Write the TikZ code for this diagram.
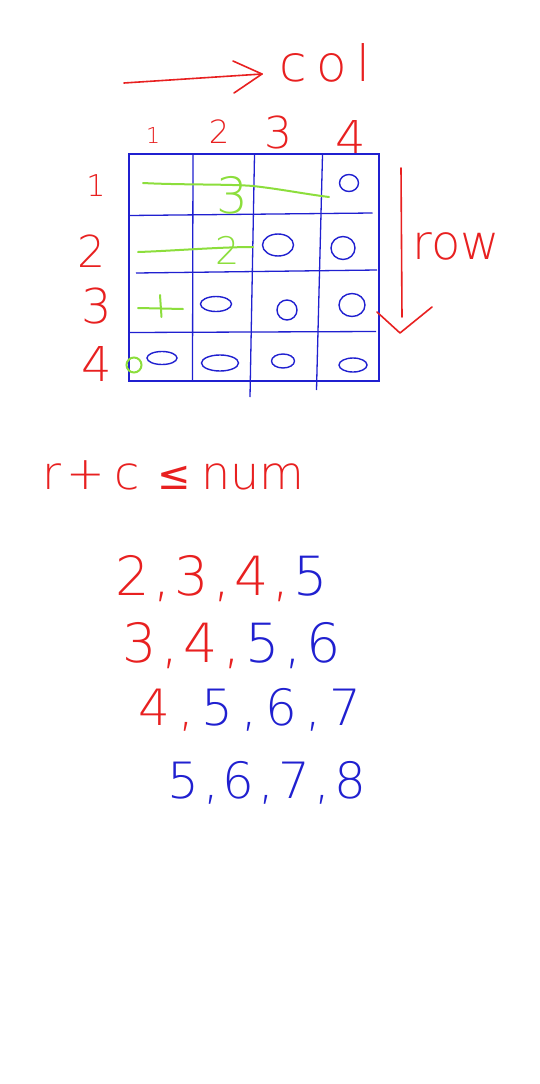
\documentclass[tikz,border=0pt]{standalone}
\usepackage{fontspec}
\newfontfamily\hand{DejaVu Sans ExtraLight}
\newfontfamily\dvs{DejaVu Sans}
\usetikzlibrary{shapes.geometric}
\definecolor{pr}{RGB}{232,32,32}
\definecolor{pb}{RGB}{32,32,208}
\definecolor{pg}{RGB}{140,222,60}
\newcommand\fsz[1]{\fontsize{#1}{#1}\selectfont}
\newcommand\cma[1][4pt]{\hspace{#1},\hspace{#1}}
\begin{document}
\begin{tikzpicture}[x=1pt,y=-1pt,
  txt/.style={inner sep=0pt, font=\hand},
  gridln/.style={pb, line width=1.3pt},
  pen/.style={pr, line width=1.6pt, line cap=round, line join=round},
  gpen/.style={pg, line width=2pt, line cap=round, line join=round},
  ov/.style={ellipse, draw=pb, line width=1.4pt, inner sep=0pt}]
\useasboundingbox[fill=white] (0,0) rectangle (540,1084);

% col arrow
\coordinate (ca0) at (124,83);
\coordinate (ct) at (262,74);
\coordinate (ca1) at (233,61);
\coordinate (ca2) at (234,93);
\draw[pen] (ca0) -- (ct);
\draw[pen] (ca1) -- (ct) -- (ca2);
\node[txt, text=pr, font=\hand\fsz{50}] (col) at (325,63) {c\hspace{9pt}o\hspace{10pt}l};

% column numbers
\node[txt, text=pr, font=\hand\fsz{22}] (c1) at (153,135) {1};
\node[txt, text=pr, font=\hand\fsz{32}] (c2) at (219,132) {2};
\node[txt, text=pr, font=\hand\fsz{44}] (c3) at (278,132) {3};
\node[txt, text=pr, font=\hand\fsz{48}] (c4) at (351,138) {4};

% row numbers
\node[txt, text=pr, font=\hand\fsz{30}] (r1) at (96,186) {1};
\node[txt, text=pr, font=\hand\fsz{44}] (r2) at (91,251) {2};
\node[txt, text=pr, font=\hand\fsz{48}] (r3) at (97,306) {3};
\node[txt, text=pr, font=\hand\fsz{48}] (r4) at (97,364) {4};

% grid
\draw[gridln] (129,154) rectangle (379,381);
\draw[gridln] (193,155) -- (192.5,380);
\draw[gridln] (254.5,155) -- (250,397);
\draw[gridln] (322.5,155) -- (316.5,390);
\draw[gridln] (129,215.5) -- (372.5,213);
\draw[gridln] (136,273) -- (377,270);
\draw[gridln] (129,332.5) -- (376,331.5);

% row arrow
\coordinate (ra0) at (401,168);
\coordinate (ra1) at (402,317);
\coordinate (rh1) at (377,312);
\coordinate (rt) at (400,333);
\coordinate (rh2) at (432,307);
\draw[pen] (ra0) -- (ra1);
\draw[pen] (rh1) -- (rt) -- (rh2);
\node[txt, text=pr, font=\hand\fsz{48}] (row) at (456,246) {row};

% green marks
\draw[gpen] (143,183) .. controls (180,185) and (230,184) .. (253,186) .. controls (280,189) and (305,194) .. (329,197);
\node[txt, text=pg, font=\hand\fsz{50}] (g3) at (232,195) {3};
\draw[gpen] (138,252) .. controls (170,251) and (220,247) .. (253,247);
\node[txt, text=pg, font=\hand\fsz{38}] (g2) at (228,250) {2};
\draw[gpen] (138,308) -- (183,309);
\draw[gpen] (160,295) -- (161.5,317);
\node[circle, draw=pg, line width=2pt, minimum size=15pt, inner sep=0pt] (g41) at (134,365) {};

% blue ovals
\node[ov, minimum width=19pt, minimum height=17pt] (o14) at (349,183) {};
\node[ov, minimum width=31pt, minimum height=22pt] (o23) at (278,245) {};
\node[ov, minimum width=24pt, minimum height=23pt] (o24) at (343,248) {};
\node[ov, minimum width=31pt, minimum height=15pt] (o32) at (216,304) {};
\node[ov, minimum width=20pt, minimum height=20pt] (o33) at (287,310) {};
\node[ov, minimum width=26pt, minimum height=23pt] (o34) at (352,305) {};
\node[ov, minimum width=30pt, minimum height=13pt] (o41) at (162,358) {};
\node[ov, minimum width=37pt, minimum height=16pt] (o42) at (220,363) {};
\node[ov, minimum width=23pt, minimum height=14pt] (o43) at (283,361) {};
\node[ov, minimum width=28pt, minimum height=14pt] (o44) at (353,365) {};

% formula
\node[txt, text=pr, font=\hand\fsz{46}, anchor=base west] (f) at (42,489)
  {r\hspace{5pt}+\hspace{10pt}c\hspace{18pt}{\dvs\fsz{40}≤}\hspace{10pt}num};

% number lines
\node[txt, font=\hand\fsz{54}, anchor=base west] (l1) at (115,595)
  {\color{pr}2\cma 3\cma 4\cma\color{pb}5};
\node[txt, font=\hand\fsz{54}, anchor=base west] (l2) at (122,662)
  {\color{pr}3\cma[5pt]4\cma[5pt]\color{pb}5\cma[5pt]6};
\node[txt, font=\hand\fsz{50}, anchor=base west] (l3) at (138,725)
  {\color{pr}4\cma[8pt]\color{pb}5\cma[8pt]6\cma[8pt]7};
\node[txt, font=\hand\fsz{50}, anchor=base west] (l4) at (167,798)
  {\color{pb}5\cma 6\cma 7\cma 8};
\end{tikzpicture}
\end{document}
